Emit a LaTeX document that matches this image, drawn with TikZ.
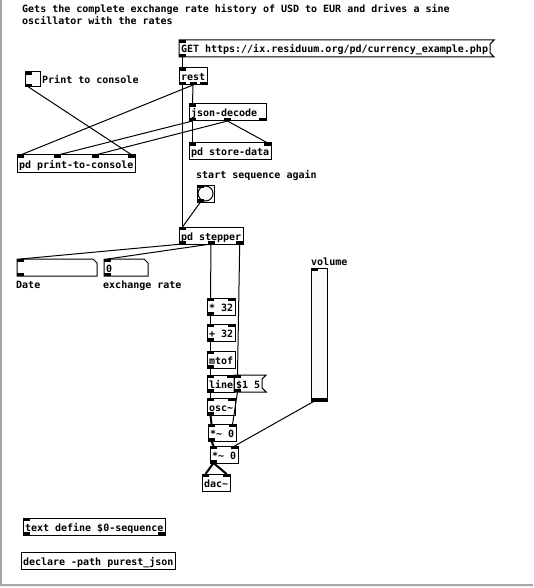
\documentclass[tikz,border=0pt]{standalone}
\usepackage{fontspec}
\setmonofont{DejaVu Sans Mono}
\usetikzlibrary{calc}

\newcommand{\pdtxt}{\fontsize{10}{12}\selectfont\ttfamily\bfseries}
% iolets: node, offset from left, name
\newcommand{\pdin}[3]{\coordinate (#3) at ($(#1.north west)+(#2+3.5,0)$);
  \fill ($(#3)+(-3.5,0)$) rectangle ++(7,3);}
\newcommand{\pdout}[3]{\coordinate (#3) at ($(#1.south west)+(#2+3.5,0)$);
  \fill ($(#3)+(-3.5,0)$) rectangle ++(7,-3);}
\newcommand{\pdinr}[2]{\coordinate (#2) at ($(#1.north east)+(-3.5,0)$);
  \fill ($(#2)+(-3.5,0)$) rectangle ++(7,3);}
\newcommand{\pdoutr}[2]{\coordinate (#2) at ($(#1.south east)+(-3.5,0)$);
  \fill ($(#2)+(-3.5,0)$) rectangle ++(7,-3);}
% message and number box outlines
\newcommand{\pdflag}[1]{\draw[line width=1pt] (#1.north west) -- ($(#1.north east)+(4,0)$)
  -- ($(#1.north east)+(0,4)$) -- ($(#1.south east)+(0,-4)$) -- ($(#1.south east)+(4,0)$)
  -- (#1.south west) -- cycle;}
\newcommand{\pdatom}[1]{\draw[line width=1pt] (#1.north west) -- ($(#1.north east)+(-4,0)$)
  -- ($(#1.north east)+(0,4)$) -- (#1.south east) -- (#1.south west) -- cycle;}

\begin{document}
\begin{tikzpicture}[x=1pt,y=-1pt,
  pdbox/.style={draw, line width=1pt, anchor=north west, outer sep=0pt, inner xsep=2pt,
    inner ysep=3pt, text height=10pt, text depth=1pt, font=\pdtxt, align=left},
  pdmsg/.style={pdbox, draw=none},
  pdgui/.style={draw, line width=1pt, anchor=north west, outer sep=0pt, inner sep=0pt, fill=gray!4},
  pdlabel/.style={anchor=base west, inner sep=0pt, font=\pdtxt},
  ctl/.style={line width=1pt},
  sig/.style={line width=2pt}]
\useasboundingbox (0,0) rectangle (533,588);
% window edge
\fill[gray!8] (0,585) rectangle (533,588);
\draw[gray!70, line width=2pt] (1,0) -- (1,584.5) -- (533,584.5);

% comment
\node[pdlabel] (com1) at (22,12.5) {Gets the complete exchange rate history of USD to EUR and drives a sine};
\node[pdlabel] (com2) at (22,24.5) {oscillator with the rates};

% request and decoding
\node[pdmsg] (get) at (179,40) {GET https://ix.residuum.org/pd/currency\_example.php};
\pdflag{get}
\node[pdbox] (rest) at (179,68) {rest};
\node[pdgui, minimum size=15pt] (tgl) at (25,72) {};
\node[pdlabel] (tgllab) at (42,84) {Print to console};
\node[pdbox, text width=73pt] (json) at (189,104) {json-decode};
\node[pdbox] (store) at (189,143) {pd store-data};
\node[pdbox] (print) at (17,155) {pd print-to-console};

% sequencer
\node[pdlabel] (banglab) at (196,178.5) {start sequence again};
\node[pdgui, minimum size=17pt] (bang) at (197,185) {};
\draw[line width=1pt, fill=gray!4] (bang.center) circle[radius=7.5pt];
\node[pdbox] (step) at (179,227) {pd stepper};
\node[pdmsg, text width=76pt] (date) at (17,259) {};
\pdatom{date}
\node[pdlabel] (datelab) at (16,288) {Date};
\node[pdmsg, text width=40pt] (rate) at (104,259) {0};
\pdatom{rate}
\node[pdlabel] (ratelab) at (103,288) {exchange rate};

% sound
\node[pdlabel] (vollab) at (311,265) {volume};
\node[pdgui, minimum width=16pt, minimum height=133pt] (vol) at (311,268) {};
\fill ($(vol.south west)+(0,-3)$) rectangle (vol.south east);
\node[pdbox] (mul) at (207,298) {* 32};
\node[pdbox] (add) at (207,324) {+ 32};
\node[pdbox] (mtof) at (207,351) {mtof};
\node[pdbox, text width=23pt] (line) at (207,375) {line};
\node[pdmsg] (msg) at (234,375) {\$1 5};
\pdflag{msg}
\node[pdbox] (osc) at (207,398) {osc\textasciitilde};
\node[pdbox] (mula) at (208,424) {*\textasciitilde{} 0};
\node[pdbox] (mulb) at (210,446) {*\textasciitilde{} 0};
\node[pdbox] (dac) at (202,474) {dac\textasciitilde};

% setup
\node[pdbox] (tdef) at (23,518) {text define \$0-sequence};
\node[pdbox] (decl) at (21,552) {declare -path purest\_json};

% iolets
\pdin{get}{0}{get-i} \pdout{get}{0}{get-o}
\pdin{rest}{0}{rest-i} \pdout{rest}{0}{rest-o0} \pdout{rest}{10.5}{rest-o1} \pdoutr{rest}{rest-o2}
\pdin{tgl}{0}{tgl-i} \pdout{tgl}{0}{tgl-o}
\pdin{json}{0}{json-i} \pdout{json}{0}{json-o0} \pdout{json}{35}{json-o1} \pdoutr{json}{json-o2}
\pdin{store}{0}{store-i0} \pdinr{store}{store-i1}
\pdin{print}{0}{print-i0} \pdin{print}{37.3}{print-i1} \pdin{print}{74.7}{print-i2} \pdinr{print}{print-i3}
\pdin{bang}{0}{bang-i} \pdout{bang}{0}{bang-o}
\pdin{step}{0}{step-i} \pdout{step}{0}{step-o0} \pdout{step}{28.5}{step-o1} \pdoutr{step}{step-o2}
\pdin{date}{0}{date-i} \pdout{date}{0}{date-o}
\pdin{rate}{0}{rate-i} \pdout{rate}{0}{rate-o}
\pdin{vol}{0}{vol-i} \pdout{vol}{0}{vol-o}
\pdin{mul}{0}{mul-i0} \pdinr{mul}{mul-i1} \pdout{mul}{0}{mul-o}
\pdin{add}{0}{add-i0} \pdinr{add}{add-i1} \pdout{add}{0}{add-o}
\pdin{mtof}{0}{mtof-i} \pdout{mtof}{0}{mtof-o}
\pdin{line}{0}{line-i0} \pdinr{line}{line-i1} \pdout{line}{0}{line-o}
\pdin{msg}{0}{msg-i} \pdout{msg}{0}{msg-o}
\pdin{osc}{0}{osc-i0} \pdinr{osc}{osc-i1} \pdout{osc}{0}{osc-o}
\pdin{mula}{0}{mula-i0} \pdinr{mula}{mula-i1} \pdout{mula}{0}{mula-o}
\pdin{mulb}{0}{mulb-i0} \pdinr{mulb}{mulb-i1} \pdout{mulb}{0}{mulb-o}
\pdin{dac}{0}{dac-i0} \pdinr{dac}{dac-i1}
\pdin{tdef}{0}{tdef-i} \pdout{tdef}{0}{tdef-o0} \pdoutr{tdef}{tdef-o1}

% connections
\draw[ctl] (get-o) -- (rest-i);
\draw[ctl] (rest-o0) -- (step-i);
\draw[ctl] (rest-o1) -- (json-i);
\draw[ctl] (rest-o1) -- (print-i0);
\draw[ctl] (tgl-o) -- (print-i3);
\draw[ctl] (json-o0) -- (store-i0);
\draw[ctl] (json-o0) -- (print-i1);
\draw[ctl] (json-o1) -- (print-i2);
\draw[ctl] (json-o1) -- (store-i1);
\draw[ctl] (bang-o) -- (step-i);
\draw[ctl] (step-o0) -- (date-i);
\draw[ctl] (step-o1) -- (rate-i);
\draw[ctl] (step-o1) -- (mul-i0);
\draw[ctl] (step-o2) -- (msg-i);
\draw[ctl] (mul-o) -- (add-i0);
\draw[ctl] (add-o) -- (mtof-i);
\draw[ctl] (mtof-o) -- (line-i0);
\draw[ctl] (line-o) -- (osc-i0);
\draw[ctl] (msg-o) -- (mula-i1);
\draw[sig] (osc-o) -- (mula-i0);
\draw[sig] (mula-o) -- (mulb-i0);
\draw[ctl] (vol-o) -- (mulb-i1);
\draw[sig] (mulb-o) -- (dac-i0);
\draw[sig] (mulb-o) -- (dac-i1);
\end{tikzpicture}
\end{document}
